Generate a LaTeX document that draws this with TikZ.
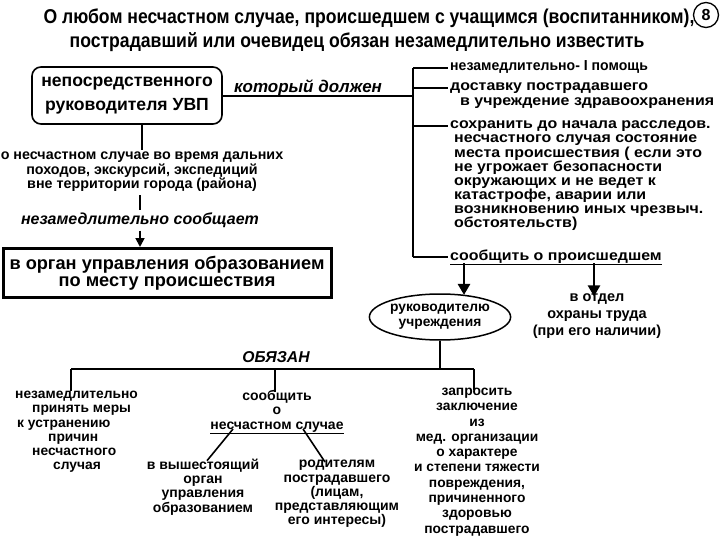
\documentclass[tikz,border=0pt]{standalone}
\usepackage{fontspec}
\setmainfont{Liberation Sans}
\newfontfamily\narrowf[FakeStretch=0.88]{Liberation Sans}
\newfontfamily\widef[FakeStretch=1.1]{Liberation Sans}
\newfontfamily\listnarrowf[FakeStretch=0.97]{Liberation Sans}
\usetikzlibrary{shapes.geometric,arrows.meta}
\begin{document}
\begin{tikzpicture}[x=1pt,y=-1pt,
  ln/.style={line width=1.6pt},
  bigarr/.style={line width=2.6pt,-{Triangle[width=12pt,length=11pt]}},
  smarr/.style={line width=1.8pt,-{Triangle[width=9pt,length=9pt]}},
  rtxt/.style={anchor=west,inner sep=0pt,font=\widef\bfseries\fontsize{14.5}{14.5}\selectfont,text height=9pt,text depth=3pt},
  stxt/.style={inner sep=0pt,align=center,font=\bfseries\fontsize{14}{14.3}\selectfont},
  ititle/.style={inner sep=0pt,font=\bfseries\itshape\fontsize{16}{17}\selectfont},
  ttl/.style={inner sep=0pt,font=\narrowf\bfseries\fontsize{20}{22}\selectfont}
]
\useasboundingbox[fill=white] (0,0) rectangle (720,540);

% title
\node[ttl] (t1) at (369,18) {О любом несчастном случае, происшедшем с учащимся (воспитанником),};
\node[ttl] (t2) at (357,42) {пострадавший или очевидец обязан незамедлительно известить};
\node[circle,draw,line width=1.3pt,minimum size=25pt,inner sep=0pt,font=\bfseries\fontsize{16}{16}\selectfont] (n8) at (706,15) {8};

% left upper box
\node[draw,line width=1.6pt,rounded corners=9pt,minimum width=190pt,minimum height=57pt,align=center,inner sep=0pt,font=\bfseries\fontsize{17.6}{24}\selectfont] (b1) at (127,95.5) {непосредственного\\руководителя УВП};
\node[ititle,font=\bfseries\itshape\fontsize{17}{17}\selectfont] (kd) at (308,88) {который должен};
\coordinate (k) at (413,96);
\draw[ln] (b1.east |- k) -- (k);

% right list
\node[rtxt,font=\listnarrowf\bfseries\fontsize{14.5}{14.5}\selectfont] (r1) at (450,68) {незамедлительно- I помощь};
\node[rtxt] (r2) at (450,88) {доставку пострадавшего};
\node[rtxt] (r3) at (460,103) {в учреждение здравоохранения};
\node[rtxt] (r4) at (450,126) {сохранить до начала расследов.};
\node[rtxt] (r5) at (454,140) {несчастного случая состояние};
\node[rtxt] (r6) at (454,155) {места происшествия ( если это};
\node[rtxt] (r7) at (454,169) {не угрожает безопасности};
\node[rtxt] (r8) at (454,183) {окружающих и не ведет к};
\node[rtxt] (r9) at (454,197) {катастрофе, аварии или};
\node[rtxt] (r10) at (454,211) {возникновению иных чрезвыч.};
\node[rtxt] (r11) at (454,225) {обстоятельств)};
\node[rtxt] (r12) at (450,257) {\underline{сообщить о происшедшем}};
\draw[ln] (r1.west -| k) -- (r12.west -| k);
\foreach \n in {r1,r2,r4,r12} \draw[ln] (\n.west -| k) -- ([xshift=-2pt]\n.west);

% left chain
\node[stxt,font=\bfseries\fontsize{14.3}{14.5}\selectfont] (na) at (142,172) {о несчастном случае во время дальних\\походов, экскурсий, экспедиций\\вне территории города (района)};
\draw[ln] (na.north |- b1.south) -- ([yshift=2pt]na.north);
\node[ititle] (ns) at (140,220) {незамедлительно сообщает};
\draw[ln] ([yshift=-3pt]na.south -| ns.north) -- ([yshift=2pt]ns.north);
\node[draw,line width=3pt,minimum width=328pt,minimum height=49pt,align=center,inner sep=0pt,font=\bfseries\fontsize{18.2}{17.5}\selectfont] (b2) at (167,273) {в орган управления образованием\\по месту происшествия};
\draw[smarr] ([yshift=-3pt]ns.south) -- (ns.south |- b2.north);

% ellipse and safety dept
\node[ellipse,draw,line width=1.5pt,minimum width=125pt,minimum height=46pt,inner sep=0pt,align=center,font=\bfseries\fontsize{13.8}{15}\selectfont] (ell) at (440,317) {руководителю\\учреждения};
\coordinate (s1) at (464,263);
\coordinate (s2) at (594,263);
\draw[bigarr] (s1) -- (s1 |- ell.40);
\node[stxt,font=\bfseries\fontsize{14.5}{17}\selectfont] (otd) at (597,316) {в отдел\\охраны труда\\(при его наличии)};
\draw[bigarr] (s2) -- ([yshift=-3pt]s2 |- otd.north);

% bottom tree
\coordinate (h) at (0,369);
\coordinate (hl) at (71,369);
\coordinate (hm) at (275,369);
\coordinate (hr) at (474,369);
\draw[ln] (ell.south) -- (ell.south |- h);
\draw[ln] (hl) -- (hr);
\node[ititle,font=\bfseries\itshape\fontsize{15.7}{17}\selectfont] (ob) at (276,357) {ОБЯЗАН};

\node[anchor=north west,inner sep=0pt,align=left,font=\bfseries\fontsize{13.8}{14.2}\selectfont] (lt) at (15,391) {незамедлительно\\\hspace*{17pt}принять меры\\\hspace*{2pt}к устранению\\\hspace*{33pt}причин\\\hspace*{17pt}несчастного\\\hspace*{38pt}случая};
\draw[ln] (hl) -- (hl |- lt.north);

\node[stxt,anchor=north] (mid) at (277,390) {сообщить\\о\\\underline{несчастном случае}};
\draw[ln] (hm) -- ([yshift=-2pt]hm |- mid.north);

\node[stxt] (org) at (203,487) {в вышестоящий\\орган\\управления\\образованием};
\node[stxt] (par) at (337,494) {родителям\\пострадавшего\\(лицам,\\представляющим\\его интересы)};
\coordinate (u1) at (233,429);
\coordinate (u2) at (303,429);
\draw[ln] (u1) -- ([xshift=4pt,yshift=-2pt]org.north);
\draw[ln] (u2) -- ([xshift=-12pt,yshift=-2pt]par.north);

\node[stxt,font=\bfseries\fontsize{13.8}{15.3}\selectfont] (zap) at (477,462) {запросить\\заключение\\из\\мед. организации\\о характере\\и степени тяжести\\повреждения,\\причиненного\\здоровью\\пострадавшего};
\draw[ln] (hr) -- ([yshift=-2pt]hr |- zap.north);
\end{tikzpicture}
\end{document}
